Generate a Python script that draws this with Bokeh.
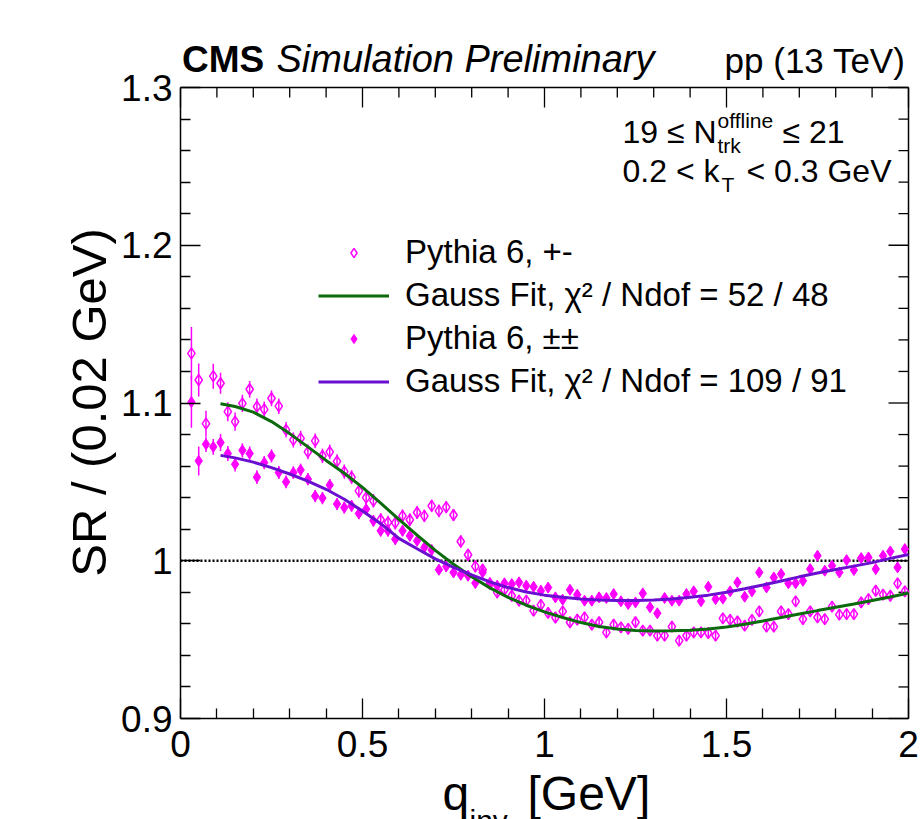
import numpy as np
from bokeh.plotting import figure
from bokeh.models import Range1d, FixedTicker, Label, Legend, LegendItem
from bokeh.core.properties import value
from bokeh.embed import file_html
from bokeh.resources import INLINE

# ---------------- data ----------------
q_bins = np.round(np.arange(0.03, 2.0, 0.02), 2)  # bin centres (0.02 GeV bins)

sr_pm = [
    1.1315, 1.1146, 1.0869, 1.1170, 1.1125, 1.0945, 1.0882, 1.0998, 1.1087, 1.0977,
    1.0960, 1.1030, 1.0980, 1.0830, 1.0766, 1.0776, 1.0690, 1.0760, 1.0665, 1.0690,
    1.0630, 1.0565, 1.0530, 1.0443, 1.0400, 1.0380, 1.0260, 1.0243, 1.0240, 1.0285,
    1.0260, 1.0306, 1.0285, 1.0348, 1.0316, 1.0340, 1.0290, 1.0122, 1.0038, 0.9964,
    0.9943, 0.9857, 0.9800, 0.9816, 0.9778, 0.9747, 0.9747, 0.9684, 0.9720, 0.9670,
    0.9640, 0.9679, 0.9610, 0.9627, 0.9641, 0.9595, 0.9610, 0.9546, 0.9595, 0.9578,
    0.9568, 0.9610, 0.9557, 0.9557, 0.9525, 0.9525, 0.9582, 0.9494, 0.9525, 0.9546,
    0.9546, 0.9542, 0.9525, 0.9635, 0.9625, 0.9615, 0.9589, 0.9625, 0.9679, 0.9582,
    0.9582, 0.9679, 0.9662, 0.9743, 0.9630, 0.9679, 0.9641, 0.9630, 0.9709, 0.9658,
    0.9662, 0.9662, 0.9736, 0.9757, 0.9810, 0.9785, 0.9778, 0.9857, 0.9806]

err_pm = [
    0.0167, 0.0105, 0.0082, 0.0079, 0.0067, 0.0060, 0.0058, 0.0055, 0.0053, 0.0051,
    0.0050, 0.0050, 0.0049, 0.0049, 0.0048, 0.0048, 0.0047, 0.0047, 0.0046, 0.0046,
    0.0045, 0.0045, 0.0044, 0.0044, 0.0043, 0.0043, 0.0042, 0.0042, 0.0042, 0.0041,
    0.0041, 0.0041, 0.0040, 0.0040, 0.0040, 0.0039, 0.0039, 0.0039, 0.0038, 0.0038,
    0.0038, 0.0037, 0.0037, 0.0037, 0.0036, 0.0036, 0.0036, 0.0035, 0.0035, 0.0035,
    0.0035, 0.0034, 0.0034, 0.0034, 0.0034, 0.0033, 0.0033, 0.0033, 0.0033, 0.0033,
    0.0032, 0.0032, 0.0032, 0.0032, 0.0032, 0.0031, 0.0031, 0.0031, 0.0031, 0.0031,
    0.0031, 0.0030, 0.0030, 0.0030, 0.0030, 0.0030, 0.0030, 0.0030, 0.0029, 0.0029,
    0.0029, 0.0029, 0.0029, 0.0029, 0.0029, 0.0028, 0.0028, 0.0028, 0.0028, 0.0028,
    0.0028, 0.0028, 0.0028, 0.0027, 0.0027, 0.0027, 0.0027, 0.0027, 0.0027]

sr_pp = [
    1.1006, 1.0633, 1.0738, 1.0722, 1.0749, 1.0680, 1.0612, 1.0700, 1.0680, 1.0530,
    1.0622, 1.0665, 1.0559, 1.0500, 1.0559, 1.0576, 1.0517, 1.0410, 1.0397, 1.0480,
    1.0360, 1.0337, 1.0348, 1.0300, 1.0327, 1.0253, 1.0190, 1.0190, 1.0137, 1.0190,
    1.0158, 1.0127, 1.0084, 1.0068, 0.9943, 0.9964, 0.9926, 0.9911, 0.9905, 0.9859,
    0.9926, 0.9852, 0.9842, 0.9857, 0.9852, 0.9863, 0.9842, 0.9835, 0.9810, 0.9830,
    0.9768, 0.9753, 0.9816, 0.9785, 0.9747, 0.9747, 0.9768, 0.9764, 0.9789, 0.9743,
    0.9726, 0.9736, 0.9793, 0.9705, 0.9667, 0.9764, 0.9747, 0.9747, 0.9789, 0.9806,
    0.9743, 0.9835, 0.9757, 0.9760, 0.9806, 0.9863, 0.9772, 0.9806, 0.9926, 0.9831,
    0.9894, 0.9916, 0.9857, 0.9857, 0.9873, 0.9947, 1.0032, 0.9937, 0.9968, 0.9926,
    1.0004, 0.9941, 1.0017, 1.0021, 0.9947, 1.0032, 1.0059, 0.9958, 1.0074]

err_pp = [
    0.0163, 0.0092, 0.0048, 0.0050, 0.0054, 0.0048, 0.0046, 0.0045, 0.0044, 0.0043,
    0.0042, 0.0042, 0.0041, 0.0041, 0.0040, 0.0040, 0.0039, 0.0039, 0.0039, 0.0038,
    0.0038, 0.0038, 0.0037, 0.0037, 0.0037, 0.0036, 0.0036, 0.0036, 0.0035, 0.0035,
    0.0035, 0.0035, 0.0034, 0.0034, 0.0034, 0.0034, 0.0033, 0.0033, 0.0033, 0.0033,
    0.0033, 0.0032, 0.0032, 0.0032, 0.0032, 0.0032, 0.0031, 0.0031, 0.0031, 0.0031,
    0.0031, 0.0031, 0.0030, 0.0030, 0.0030, 0.0030, 0.0030, 0.0030, 0.0030, 0.0029,
    0.0029, 0.0029, 0.0029, 0.0029, 0.0029, 0.0029, 0.0028, 0.0028, 0.0028, 0.0028,
    0.0028, 0.0028, 0.0028, 0.0028, 0.0027, 0.0027, 0.0027, 0.0027, 0.0027, 0.0027,
    0.0027, 0.0027, 0.0027, 0.0026, 0.0026, 0.0026, 0.0026, 0.0026, 0.0026, 0.0026,
    0.0026, 0.0026, 0.0026, 0.0026, 0.0025, 0.0025, 0.0025, 0.0025, 0.0025]

fit_q = [0.11, 0.15, 0.20, 0.25, 0.30, 0.35, 0.40, 0.45, 0.50, 0.55,
         0.60, 0.65, 0.70, 0.75, 0.80, 0.85, 0.90, 0.95, 1.00, 1.05,
         1.10, 1.15, 1.20, 1.25, 1.30, 1.35, 1.40, 1.45, 1.50, 1.55,
         1.60, 1.65, 1.70, 1.75, 1.80, 1.85, 1.90, 1.95, 2.00]

fit_pm = [1.0995, 1.0978, 1.0942, 1.0882, 1.0806, 1.0722, 1.0636, 1.0555, 1.0465, 1.0365,
          1.0262, 1.0162, 1.0066, 0.9978, 0.9898, 0.9828, 0.9768, 0.9718, 0.9676, 0.9640,
          0.9608, 0.9583, 0.9567, 0.9558, 0.9555, 0.9556, 0.9560, 0.9568, 0.9580, 0.9597,
          0.9618, 0.9640, 0.9662, 0.9684, 0.9705, 0.9726, 0.9748, 0.9770, 0.9795]

fit_pp = [1.0668, 1.0652, 1.0625, 1.0590, 1.0550, 1.0505, 1.0453, 1.0390, 1.0315, 1.0235,
          1.0142, 1.0076, 1.0012, 0.9958, 0.9910, 0.9866, 0.9830, 0.9802, 0.9782, 0.9768,
          0.9758, 0.9751, 0.9748, 0.9748, 0.9751, 0.9758, 0.9768, 0.9782, 0.9800, 0.9822,
          0.9846, 0.9872, 0.9898, 0.9922, 0.9945, 0.9966, 0.9988, 1.0015, 1.0040]

x_ticks = [0.0, 0.5, 1.0, 1.5, 2.0]
x_tick_labels = ["0", "0.5", "1", "1.5", "2"]
x_minor = [0.1, 0.2, 0.3, 0.4, 0.6, 0.7, 0.8, 0.9, 1.1, 1.2, 1.3, 1.4, 1.6, 1.7, 1.8, 1.9]
y_ticks = [0.9, 1.0, 1.1, 1.2, 1.3]
y_tick_labels = ["0.9", "1", "1.1", "1.2", "1.3"]
y_minor = [0.92, 0.94, 0.96, 0.98, 1.02, 1.04, 1.06, 1.08, 1.12, 1.14, 1.16, 1.18,
           1.22, 1.24, 1.26, 1.28]
ref_level = 1.0

legend_labels = ["Pythia 6, +-", "Gauss Fit, \u03c7\u00b2 / Ndof = 52 / 48",
                 "Pythia 6, \u00b1\u00b1", "Gauss Fit, \u03c7\u00b2 / Ndof = 109 / 91"]

MAGENTA = "#ff00ff"
GREEN = "#0b6a0b"
PURPLE = "#6a0fd0"
FONT = "Liberation Sans"

# ---------------- geometry: plotting box inside a full-canvas frame ----------------
W, H = 921, 819
BOX_L, BOX_T, BOX_R, BOX_B = 180, 87, 908, 718       # page pixels of the ROOT pad frame
X0, X1 = x_ticks[0], x_ticks[-1]
Y0, Y1 = y_ticks[0], y_ticks[-1]
PX_X = (BOX_R - BOX_L) / (X1 - X0)
PX_Y = (BOX_B - BOX_T) / (Y1 - Y0)
BASE_SHIFT = 0.35   # Bokeh draws an 'alphabetic' anchor this fraction of the size lower


def dx(px):
    return X0 + (px - BOX_L) / PX_X


def dy(py):
    return Y1 - (py - BOX_T) / PX_Y


p = figure(width=W, height=H, min_border=0,
           x_range=Range1d(dx(0), dx(W)), y_range=Range1d(dy(H), dy(0)),
           output_backend="svg", toolbar_location=None)
p.grid.visible = False
p.outline_line_color = None
p.background_fill_color = "white"
p.border_fill_color = "white"


def style_axis(ax, ticks, minor, labels, loc, bounds):
    ax.fixed_location = loc
    ax.bounds = bounds
    ax.ticker = FixedTicker(ticks=ticks, minor_ticks=minor)
    ax.major_tick_in = 20
    ax.major_tick_out = 0
    ax.minor_tick_in = 10
    ax.minor_tick_out = 0
    ax.axis_line_width = 1.5
    ax.axis_line_color = "black"
    ax.major_tick_line_color = "black"
    ax.minor_tick_line_color = "black"
    ax.major_tick_line_width = 1.3
    ax.minor_tick_line_width = 1.3
    ax.major_label_overrides = {float(t): l for t, l in zip(ticks, labels)}
    ax.major_label_text_font = FONT
    ax.major_label_text_font_size = "37px"
    ax.major_label_text_color = "black"
    ax.axis_label = None


style_axis(p.xaxis[0], x_ticks, x_minor, x_tick_labels, Y0, (X0, X1))
style_axis(p.yaxis[0], y_ticks, y_minor, y_tick_labels, X0, (Y0, Y1))
p.xaxis[0].major_label_standoff = 12
p.yaxis[0].major_label_standoff = 8

# top and right edges of the box with inward ticks (ROOT style)
p.segment(x0=[X0, X1], x1=[X1, X1], y0=[Y1, Y0], y1=[Y1, Y1], line_color="black", line_width=1.5)
p.segment(x0=x_ticks, x1=x_ticks, y0=[Y1] * len(x_ticks), y1=[Y1 - 20 / PX_Y] * len(x_ticks),
          line_color="black", line_width=1.3)
p.segment(x0=x_minor, x1=x_minor, y0=[Y1] * len(x_minor), y1=[Y1 - 10 / PX_Y] * len(x_minor),
          line_color="black", line_width=1.3)
p.segment(x0=[X1] * len(y_ticks), x1=[X1 - 20 / PX_X] * len(y_ticks), y0=y_ticks, y1=y_ticks,
          line_color="black", line_width=1.3)
p.segment(x0=[X1] * len(y_minor), x1=[X1 - 10 / PX_X] * len(y_minor), y0=y_minor, y1=y_minor,
          line_color="black", line_width=1.3)

# dotted reference line at SR = 1
p.segment(x0=[X0], x1=[X1], y0=[ref_level], y1=[ref_level],
          line_color="black", line_width=2.5, line_dash="2 2")

# error bars
q = np.asarray(q_bins)
pm = np.asarray(sr_pm)
pp = np.asarray(sr_pp)
p.segment(x0=q, x1=q, y0=pm - np.asarray(err_pm), y1=pm + np.asarray(err_pm),
          line_color=MAGENTA, line_width=1.5)
p.segment(x0=q, x1=q, y0=pp - np.asarray(err_pp), y1=pp + np.asarray(err_pp),
          line_color=MAGENTA, line_width=1.5)

r_pm = p.scatter(q, pm, marker="diamond", size=11, fill_color=None,
                 line_color=MAGENTA, line_width=1.5)
r_pp = p.scatter(q, pp, marker="diamond", size=11, fill_color=MAGENTA,
                 line_color=MAGENTA, line_width=1)
l_pm = p.line(fit_q, fit_pm, line_color=GREEN, line_width=3)
l_pp = p.line(fit_q, fit_pp, line_color=PURPLE, line_width=3)

legend = Legend(items=[LegendItem(label=value(legend_labels[0]), renderers=[r_pm]),
                       LegendItem(label=value(legend_labels[1]), renderers=[l_pm]),
                       LegendItem(label=value(legend_labels[2]), renderers=[r_pp]),
                       LegendItem(label=value(legend_labels[3]), renderers=[l_pp])],
                location=(318, H - 400), orientation="vertical",
                glyph_width=71, glyph_height=23, label_height=23,
                spacing=5, padding=0, margin=0, label_standoff=16,
                border_line_color=None, background_fill_alpha=0,
                label_text_font=FONT, label_text_font_size="33px",
                label_text_color="black")
p.add_layout(legend)


def lab(x, y, text, size, style="normal", align="left", vertical=False):
    """x, y: page pixels of the text's left (or centre) point on its baseline."""
    if vertical:
        x = x - BASE_SHIFT * size
    else:
        y = y - BASE_SHIFT * size
    p.add_layout(Label(x=dx(x), y=dy(y), text=text, text_font=FONT,
                       text_font_size=f"{size}px", text_font_style=style,
                       text_align=align, text_baseline="alphabetic",
                       angle=np.pi / 2 if vertical else 0.0,
                       text_color="black"))


# header
lab(181.5, 72, "CMS", 37, "bold")
lab(276, 72, "Simulation Preliminary", 38, "italic")
lab(905, 72, "pp (13 TeV)", 35, align="right")

# selection texts
lab(622, 143, "19 \u2264 N", 32)
lab(717, 127, "offline", 21)
lab(717, 152, "trk", 21)
lab(782, 143, "\u2264 21", 32)
lab(622, 182, "0.2 < k", 32)
lab(721, 191, "T", 21)
lab(746, 182, "< 0.3 GeV", 32)

# axis titles
lab(106, 402, "SR / (0.02 GeV)", 49, align="center", vertical=True)
lab(442, 810, "q", 48)
lab(469, 830, "inv", 30)
lab(527, 810, "[GeV]", 48)

open("out.html", "w").write(file_html(p, INLINE))
